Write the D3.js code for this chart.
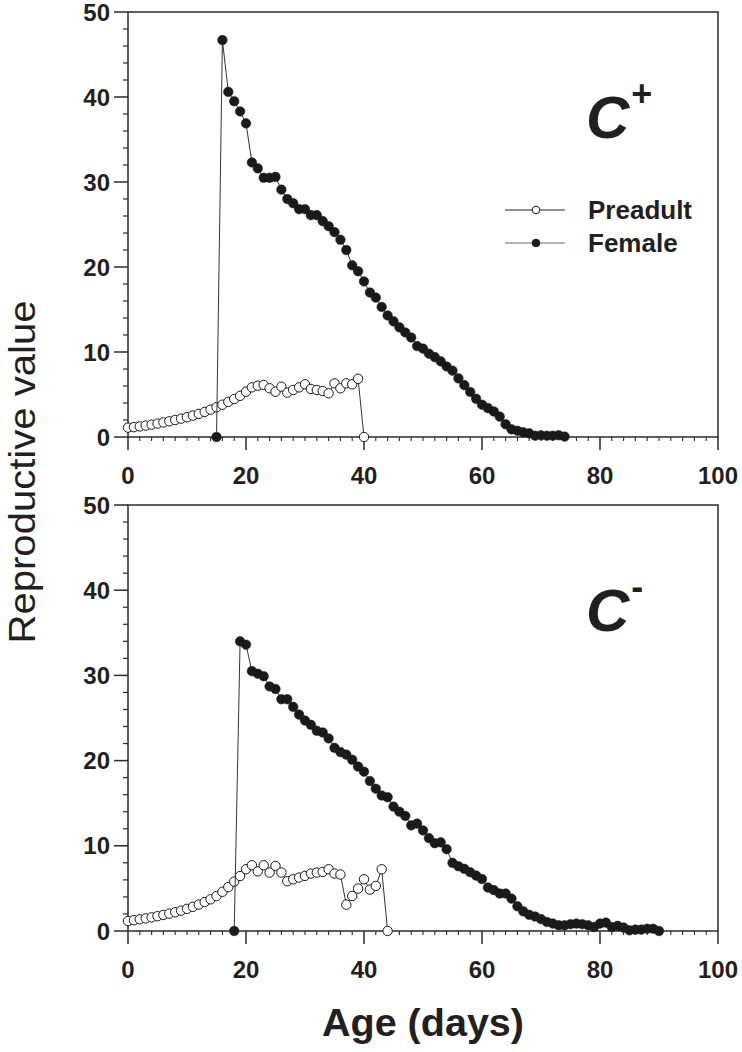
<!DOCTYPE html>
<html>
<head>
<meta charset="utf-8">
<script src="https://cdn.jsdelivr.net/npm/d3@7"></script>
<style>
  html, body { margin: 0; padding: 0; background: #fff; }
  svg { display: block; }
  text { font-family: "Liberation Sans", Arial, Helvetica, sans-serif; fill: #231f20; }
</style>
</head>
<body>
<svg id="chart" width="742" height="1052"></svg>
<script>
// ---------- DATA ----------
const xTicks = [0, 20, 40, 60, 80, 100];
const yTicks = [0, 10, 20, 30, 40, 50];
const seriesNames = ["Preadult", "Female"];
const panelLabels = ["C", "C"];
const panelSupers = ["+", "-"];

// Top panel (C+)
const topPreadultStart = 0;
const topPreadult = [1.10, 1.16, 1.24, 1.34, 1.45, 1.58, 1.71, 1.85, 2.00, 2.16,
  2.33, 2.52, 2.72, 2.95, 3.22, 3.50, 3.80, 4.13, 4.47, 4.84,
  5.33, 5.84, 6.04, 6.12, 5.73, 5.33, 5.92, 5.22, 5.53, 5.84,
  6.20, 5.65, 5.53, 5.41, 5.14, 6.31, 5.73, 6.31, 6.20, 6.85, 0];
const topFemaleStart = 15;
const topFemale = [0, 46.7, 40.6, 39.5, 38.3, 36.9, 32.3, 31.6, 30.5, 30.5,
  30.6, 29.1, 28.0, 27.5, 26.8, 26.8, 26.1, 26.1, 25.4, 24.8,
  24.1, 23.2, 22.0, 20.2, 19.5, 18.3, 17.0, 16.4, 15.3, 14.3,
  13.6, 12.9, 12.3, 11.7, 10.7, 10.4, 9.8, 9.4, 8.9, 8.3,
  7.8, 6.9, 6.1, 5.3, 4.5, 3.8, 3.4, 3.0, 2.4, 1.5,
  0.9, 0.74, 0.55, 0.43, 0.15, 0.2, 0.15, 0.15, 0.2, 0.05];

// Bottom panel (C-)
const botPreadultStart = 0;
const botPreadult = [1.17, 1.27, 1.37, 1.48, 1.60, 1.74, 1.89, 2.04, 2.20, 2.39,
  2.60, 2.84, 3.10, 3.40, 3.72, 4.10, 4.60, 5.15, 5.80, 6.45,
  7.25, 7.72, 7.00, 7.72, 6.86, 7.64, 6.86, 5.84, 6.07, 6.27,
  6.47, 6.74, 6.86, 6.94, 7.25, 6.74, 6.63, 3.10, 4.11, 4.98,
  6.07, 4.86, 5.29, 7.25, 0];
const botFemaleStart = 18;
const botFemale = [0, 34.0, 33.6, 30.5, 30.2, 29.9, 28.7, 28.4, 27.2, 27.2,
  26.3, 25.4, 24.7, 24.2, 23.5, 23.3, 22.6, 21.5, 21.0, 20.7,
  20.1, 19.3, 18.7, 17.6, 16.7, 15.9, 15.7, 14.6, 14.0, 13.5,
  12.4, 12.6, 11.8, 10.9, 10.3, 10.4, 9.6, 8.0, 7.6, 7.3,
  6.9, 6.5, 6.1, 5.1, 4.8, 4.4, 4.4, 3.8, 2.9, 2.3,
  1.9, 1.7, 1.4, 1.06, 0.87, 0.67, 0.67, 0.8, 0.87, 0.8,
  0.67, 0.47, 0.87, 0.98, 0.47, 0.6, 0.4, 0.08, 0.16, 0.16,
  0.27, 0.27, 0.0];

// ---------- DRAW ----------
const svg = d3.select("#chart");
const left = 128, right = 718;
const panels = [
  { top: 12, bottom: 437, pre: [topPreadultStart, topPreadult], fem: [topFemaleStart, topFemale], legend: true },
  { top: 505, bottom: 931, pre: [botPreadultStart, botPreadult], fem: [botFemaleStart, botFemale], legend: false }
];
const axisColor = "#2b2b2b";

function toPts(start, vals) { return vals.map((v, i) => ({ x: start + i, y: v })); }

panels.forEach((p, pi) => {
  const x = d3.scaleLinear().domain([0, 100]).range([left, right]);
  const y = d3.scaleLinear().domain([0, 50]).range([p.bottom, p.top]);
  const g = svg.append("g");

  // frame
  g.append("rect").attr("x", left).attr("y", p.top)
    .attr("width", right - left).attr("height", p.bottom - p.top)
    .attr("fill", "none").attr("stroke", axisColor).attr("stroke-width", 1.5);

  // y axis ticks
  const yMinor = d3.range(0, 51, 2).filter(v => v % 10 !== 0);
  g.selectAll(".ymin").data(yMinor).join("line")
    .attr("x1", left - 5).attr("x2", left)
    .attr("y1", d => y(d)).attr("y2", d => y(d))
    .attr("stroke", axisColor).attr("stroke-width", 1.2);
  g.selectAll(".ymaj").data(yTicks).join("line")
    .attr("x1", left - 14).attr("x2", left)
    .attr("y1", d => y(d)).attr("y2", d => y(d))
    .attr("stroke", axisColor).attr("stroke-width", 1.5);
  g.selectAll(".ylab").data(yTicks).join("text")
    .attr("x", left - 18).attr("y", d => y(d)).attr("dy", "0.36em")
    .attr("text-anchor", "end").attr("font-size", 24).attr("font-weight", "bold")
    .text(d => d);

  // x axis ticks
  const xMinor = d3.range(0, 101, 2).filter(v => v % 20 !== 0);
  g.selectAll(".xmin").data(xMinor).join("line")
    .attr("x1", d => x(d)).attr("x2", d => x(d))
    .attr("y1", p.bottom).attr("y2", p.bottom + 4)
    .attr("stroke", axisColor).attr("stroke-width", 1.1);
  g.selectAll(".xmaj").data(xTicks).join("line")
    .attr("x1", d => x(d)).attr("x2", d => x(d))
    .attr("y1", p.bottom).attr("y2", p.bottom + 13)
    .attr("stroke", axisColor).attr("stroke-width", 1.5);
  g.selectAll(".xlab").data(xTicks).join("text")
    .attr("x", d => x(d)).attr("y", p.bottom + 47)
    .attr("text-anchor", "middle").attr("font-size", 24).attr("font-weight", "bold")
    .text(d => d);

  const line = d3.line().x(d => x(d.x)).y(d => y(d.y));
  const pre = toPts(p.pre[0], p.pre[1]);
  const fem = toPts(p.fem[0], p.fem[1]);

  g.append("path").attr("d", line(pre)).attr("fill", "none").attr("stroke", "#333").attr("stroke-width", 1);
  g.selectAll(".pre").data(pre).join("circle")
    .attr("cx", d => x(d.x)).attr("cy", d => y(d.y)).attr("r", 4.7)
    .attr("fill", "#fff").attr("stroke", "#1a1a1a").attr("stroke-width", 1);

  g.append("path").attr("d", line(fem)).attr("fill", "none").attr("stroke", "#333").attr("stroke-width", 1);
  g.selectAll(".fem").data(fem).join("circle")
    .attr("cx", d => x(d.x)).attr("cy", d => y(d.y)).attr("r", 4.8)
    .attr("fill", "#1a1a1a").attr("stroke", "#1a1a1a").attr("stroke-width", 0.5);

  // panel label C+ / C-
  const lbl = g.append("text").attr("x", 586).attr("y", p.top + 126)
    .attr("font-size", 60).attr("font-weight", "bold").attr("font-style", "italic");
  lbl.append("tspan").text(panelLabels[pi]);
  lbl.append("tspan").attr("font-size", 36).attr("font-style", "normal")
    .attr("dy", -32).attr("dx", 2).text(panelSupers[pi]);

  if (p.legend) {
    const ly = [210, 243];
    seriesNames.forEach((name, i) => {
      g.append("line").attr("x1", 505).attr("x2", 565).attr("y1", ly[i]).attr("y2", ly[i])
        .attr("stroke", i === 0 ? "#222" : "#666").attr("stroke-width", 1.2);
      g.append("circle").attr("cx", 536).attr("cy", ly[i]).attr("r", 3.8)
        .attr("fill", i === 0 ? "#fff" : "#1a1a1a").attr("stroke", "#1a1a1a").attr("stroke-width", 1);
      g.append("text").attr("x", 588).attr("y", ly[i]).attr("dy", "0.36em")
        .attr("font-size", 26).attr("font-weight", "bold").text(name);
    });
  }
});

// axis titles
svg.append("text").attr("transform", "translate(35,472) rotate(-90)")
  .attr("text-anchor", "middle").attr("font-size", 36)
  .attr("textLength", 343).attr("lengthAdjust", "spacingAndGlyphs")
  .text("Reproductive value");
svg.append("text").attr("x", 423).attr("y", 1036)
  .attr("text-anchor", "middle").attr("font-size", 38).attr("font-weight", "bold")
  .attr("textLength", 202).attr("lengthAdjust", "spacingAndGlyphs")
  .text("Age (days)");
</script>
</body>
</html>
